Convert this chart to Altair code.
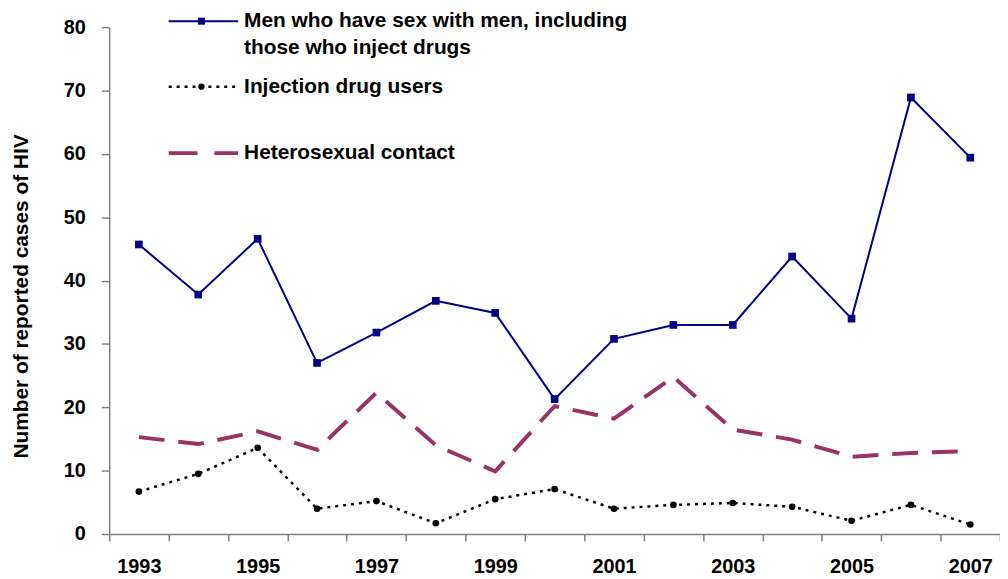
import altair as alt
import pandas as pd

years = list(range(1993, 2008))
msm = [45.7, 37.8, 46.6, 27.0, 31.8, 36.8, 34.9, 21.3, 30.8, 33.0, 33.0, 43.8, 34.0, 68.9, 59.4]
idu = [6.7, 9.5, 13.6, 4.0, 5.2, 1.7, 5.5, 7.1, 4.0, 4.6, 4.9, 4.3, 2.1, 4.6, 1.5]
het = [15.3, 14.2, 16.2, 13.3, 22.3, 14.0, 9.9, 20.2, 18.2, 24.8, 16.5, 14.9, 12.2, 12.8, 13.1]

legend_msm = ["Men who have sex with men, including", "those who inject drugs"]
legend_idu = "Injection drug users"
legend_het = "Heterosexual contact"

NAVY = "#000080"
PLUM = "#993366"
FONT = "Liberation Sans"

df = pd.DataFrame({"year": [str(y) for y in years], "msm": msm, "idu": idu, "het": het})

xenc = alt.X(
    "year:O",
    title=None,
    scale=alt.Scale(type="band", paddingInner=0, paddingOuter=0),
    axis=alt.Axis(
        tickBand="extent",
        labelExpr="toNumber(datum.label) % 2 == 1 ? datum.label : ''",
        labelAngle=0,
        labelFont=FONT,
        labelFontSize=20,
        labelFontWeight="bold",
        labelColor="black",
        labelPadding=16,
        tickSize=7,
        tickColor="#808080",
        domainColor="#808080",
        domainWidth=1.5,
        tickWidth=1.5,
        grid=False,
    ),
)

yscale = alt.Scale(domain=[0, 80], nice=False, zero=True)
yaxis = alt.Axis(
    values=list(range(0, 81, 10)),
    title="Number of reported cases of HIV",
    titleFont=FONT,
    titleFontSize=21,
    titleFontWeight="bold",
    titleColor="black",
    titleAngle=-90,
    titleX=-88,
    titleY=271,
    titleAlign="center",
    titleBaseline="middle",
    labelFont=FONT,
    labelFontSize=20,
    labelFontWeight="bold",
    labelColor="black",
    labelPadding=16,
    tickSize=8,
    tickColor="#808080",
    domainColor="#808080",
    domainWidth=1.5,
    tickWidth=1.5,
    grid=False,
)

base = alt.Chart(df)

het_line = base.mark_line(color=PLUM, strokeWidth=4, strokeDash=[26, 14]).encode(
    x=xenc, y=alt.Y("het:Q", scale=yscale, axis=yaxis)
)
idu_line = base.mark_line(color="black", strokeWidth=2.5, strokeDash=[3, 5]).encode(
    x=xenc, y=alt.Y("idu:Q", scale=yscale)
)
idu_pts = base.mark_point(shape="circle", filled=True, color="black", size=45, opacity=1).encode(
    x=xenc, y=alt.Y("idu:Q", scale=yscale)
)
msm_line = base.mark_line(color=NAVY, strokeWidth=2).encode(
    x=xenc, y=alt.Y("msm:Q", scale=yscale)
)
msm_pts = base.mark_point(shape="square", filled=True, color=NAVY, size=60, opacity=1).encode(
    x=xenc, y=alt.Y("msm:Q", scale=yscale)
)

# manual legend (pixel positions relative to the plot area)
lg = alt.Chart(pd.DataFrame({"k": [0]}))
LX1, LX2, LXM, TX = 60, 130, 93, 136
FS = 21

def legend_text(txt, y):
    return lg.mark_text(align="left", baseline="middle", font=FONT, fontSize=FS,
                        fontWeight="bold", color="black").encode(
        x=alt.value(TX), y=alt.value(y), text=alt.value(txt))

leg = [
    lg.mark_rule(color=NAVY, strokeWidth=2).encode(x=alt.value(LX1), x2=alt.value(LX2), y=alt.value(-6)),
    lg.mark_point(shape="square", filled=True, color=NAVY, size=50, opacity=1).encode(x=alt.value(LXM), y=alt.value(-6)),
    legend_text(legend_msm[0], -6),
    legend_text(legend_msm[1], 21),
    lg.mark_rule(color="black", strokeWidth=2.5, strokeDash=[3, 5]).encode(x=alt.value(LX1), x2=alt.value(LX2), y=alt.value(60)),
    lg.mark_point(shape="circle", filled=True, color="black", size=40, opacity=1).encode(x=alt.value(LXM), y=alt.value(60)),
    legend_text(legend_idu, 60),
    lg.mark_rule(color=PLUM, strokeWidth=4, strokeDash=[29, 17]).encode(x=alt.value(LX1), x2=alt.value(LX2), y=alt.value(127)),
    legend_text(legend_het, 127),
]

chart = alt.layer(het_line, idu_line, idu_pts, msm_line, msm_pts, *leg).properties(
    width=898,
    height=511,
    autosize=alt.AutoSizeParams(type="none"),
    padding={"left": 102, "top": 17, "right": 0, "bottom": 40},
    background="white",
).configure_view(stroke=None)

chart.save("out.html", embed_options={"renderer": "svg", "actions": False})
